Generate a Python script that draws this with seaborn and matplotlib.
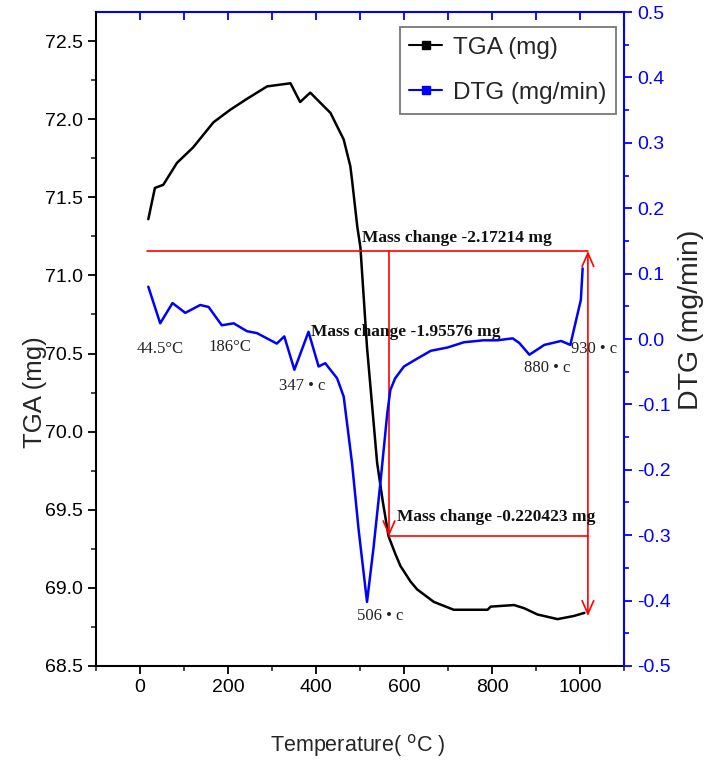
import numpy as np
import pandas as pd
import seaborn as sns
import matplotlib
matplotlib.use('Agg')
import matplotlib.pyplot as plt
from matplotlib.lines import Line2D
from matplotlib.ticker import MultipleLocator
from matplotlib import font_manager

sns.set_theme(style='ticks')
plt.rcParams['font.family'] = ['Liberation Sans', 'DejaVu Sans']

# TGA curve (temperature in C, mass in mg)
tga_temp = [19, 34, 53, 84, 121, 167, 205, 243, 289, 342, 364, 387, 433, 463, 478, 482,
            494, 501, 516, 539, 552, 565, 580, 592, 615, 630, 668, 713, 790, 797, 850,
            873, 903, 949, 986, 1010]
tga_mass = [71.36, 71.56, 71.58, 71.72, 71.82, 71.98, 72.06, 72.13, 72.21, 72.23, 72.11,
            72.17, 72.04, 71.87, 71.70, 71.61, 71.31, 71.18, 70.54, 69.80, 69.55, 69.33,
            69.22, 69.14, 69.04, 68.99, 68.91, 68.86, 68.86, 68.88, 68.89, 68.87, 68.83,
            68.80, 68.82, 68.84]

# DTG curve (mg/min)
dtg_temp = [19, 46, 74, 103, 137, 156, 186, 213, 243, 266, 311, 328, 351, 383, 406, 421,
            448, 463, 482, 497, 516, 531, 547, 562, 569, 580, 600, 630, 661, 699, 736, 780,
            812, 847, 862, 885, 919, 957, 978, 1002, 1006]
dtg_val = [0.080, 0.024, 0.055, 0.040, 0.052, 0.049, 0.021, 0.024, 0.012, 0.009, -0.007,
           0.004, -0.047, 0.011, -0.042, -0.037, -0.060, -0.088, -0.190, -0.292, -0.402,
           -0.318, -0.216, -0.114, -0.078, -0.060, -0.042, -0.030, -0.018, -0.013, -0.005,
           -0.002, -0.002, 0.001, -0.006, -0.024, -0.009, -0.003, -0.009, 0.060, 0.108]

# peak labels: (text, temperature, TGA-axis level)
peak_labels = ['44.5°C', '186°C', '347 • c', '506 • c', '880 • c', '930 • c']
peak_x = [-8, 155, 317, 494, 873, 980]
peak_y = [70.53, 70.54, 70.29, 68.82, 70.41, 70.53]

# mass change annotations
mass_labels = ['Mass change -2.17214 mg', 'Mass change -1.95576 mg', 'Mass change -0.220423 mg']
mass_x = [505, 389, 585]
mass_y = [71.24, 70.64, 69.455]
lvl_top, lvl_mid, lvl_end = 71.156, 69.33, 68.82
t_start, t_mid, t_end = 16, 566, 1018

tga = pd.DataFrame({'T': tga_temp, 'm': tga_mass})
dtg = pd.DataFrame({'T': dtg_temp, 'd': dtg_val})

fig = plt.figure(figsize=(7.16, 7.71), dpi=100)
ax1 = fig.add_axes([0.134, 0.1362, 0.7375, 0.8482])
ax2 = ax1.twinx()

sns.lineplot(data=tga, x='T', y='m', ax=ax1, color='black', lw=1.8,
             sort=False, estimator=None, legend=False)
sns.lineplot(data=dtg, x='T', y='d', ax=ax2, color='blue', lw=1.8,
             sort=False, estimator=None, legend=False)

ax1.set_xlim(-100, 1100)
ax1.set_ylim(68.5, 72.686)
ax2.set_ylim(-0.5, 0.5)

ax1.xaxis.set_major_locator(MultipleLocator(200))
ax1.xaxis.set_minor_locator(MultipleLocator(100))
ax1.yaxis.set_major_locator(MultipleLocator(0.5))
ax1.yaxis.set_minor_locator(MultipleLocator(0.25))
ax1.yaxis.set_major_formatter(matplotlib.ticker.FormatStrFormatter('%.1f'))
ax2.yaxis.set_major_locator(MultipleLocator(0.1))
ax2.yaxis.set_minor_locator(MultipleLocator(0.05))
ax2.yaxis.set_major_formatter(matplotlib.ticker.FormatStrFormatter('%.1f'))

ax1.tick_params(axis='both', which='major', direction='out', length=6, width=1.3,
                labelsize=14, colors='black')
ax1.tick_params(axis='both', which='minor', direction='out', length=3.5, width=1.2)
ax2.tick_params(axis='y', which='major', direction='out', length=6, width=1.3,
                labelsize=14, colors='blue')
ax2.tick_params(axis='y', which='minor', direction='out', length=3.5, width=1.2, colors='blue')

sec = ax1.secondary_xaxis('top')
sec.set_xticks(np.arange(0, 1001, 100))
sec.tick_params(direction='in', colors='blue', length=6, width=1.3, labeltop=False)
sec.spines['top'].set_color('blue')
sec.spines['top'].set_linewidth(1.5)

for s in ['left', 'bottom']:
    ax1.spines[s].set_color('black')
    ax1.spines[s].set_linewidth(1.5)
ax1.spines['top'].set_visible(False)
ax1.spines['right'].set_visible(False)
ax2.spines['left'].set_visible(False)
ax2.spines['bottom'].set_visible(False)
ax2.spines['top'].set_visible(False)
ax2.spines['right'].set_color('blue')
ax2.spines['right'].set_linewidth(1.5)

ax1.set_xlabel('Temperature( $^{\\rm o}$C )', fontsize=15.5)
ax1.xaxis.set_label_coords(0.496, -0.101)
ax1.set_ylabel('TGA (mg)', fontsize=18.5)
ax1.yaxis.set_label_coords(-0.093, 0.419)
ax2.set_ylabel('DTG (mg/min)', fontsize=20.5)
ax2.yaxis.set_label_coords(1.102, 0.529)

# red mass-change guides
red = '#FF0000'
ax1.plot([t_start, t_end], [lvl_top, lvl_top], color=red, lw=1.2)
ax1.plot([t_mid, t_end], [lvl_mid, lvl_mid], color=red, lw=1.2)
ax1.annotate('', xy=(t_mid, lvl_mid), xytext=(t_mid, lvl_top),
             arrowprops=dict(arrowstyle='->,head_length=0.8,head_width=0.35',
                             color=red, lw=1.2, shrinkA=0, shrinkB=0))
ax1.annotate('', xy=(t_end, lvl_end), xytext=(t_end, lvl_top),
             arrowprops=dict(arrowstyle='<->,head_length=0.8,head_width=0.35',
                             color=red, lw=1.2, shrinkA=0, shrinkB=0))

for txt, x, y in zip(mass_labels, mass_x, mass_y):
    ax1.text(x, y, txt, family='Liberation Serif', fontweight='bold', fontsize=12.5,
             color='#111111', ha='left', va='center')
for txt, x, y in zip(peak_labels, peak_x, peak_y):
    ax1.text(x, y, txt, family='Liberation Serif', fontsize=12,
             color='#222222', ha='left', va='center')

handles = [Line2D([], [], color='black', lw=1.5, marker='s', markersize=6),
           Line2D([], [], color='blue', lw=1.5, marker='s', markersize=6)]
leg = ax1.legend(handles, ['TGA (mg)', 'DTG (mg/min)'], loc='upper right',
                 bbox_to_anchor=(0.985, 0.977), fontsize=17.5, frameon=True,
                 fancybox=False, handlelength=1.35, borderpad=0.4, labelspacing=0.95,
                 handletextpad=0.45, borderaxespad=0)
leg.get_frame().set_edgecolor('#555555')
leg.get_frame().set_linewidth(1.3)
leg.set_zorder(5)

fig.savefig('out.png', dpi=100)
